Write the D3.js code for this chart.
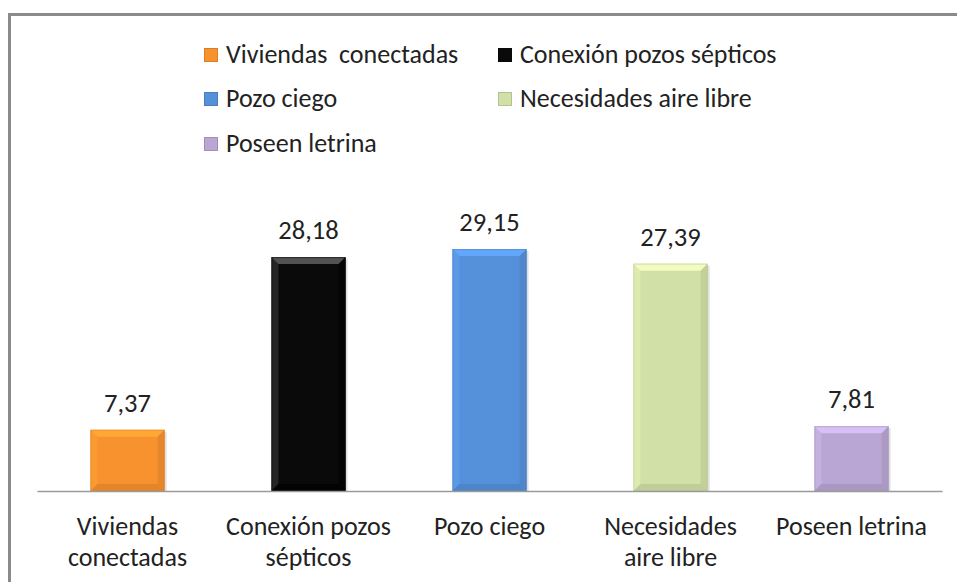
<!DOCTYPE html>
<html>
<head>
<meta charset="utf-8">
<script src="https://cdn.jsdelivr.net/npm/d3@7"></script>
<style>
	body { margin: 0; background: #fff; }
	svg text { font-family: Carlito, Calibri, Lato, sans-serif; fill: #222; }
</style>
</head>
<body>
<div id="vis"></div>
<script>
const width = 957;
const height = 582;

const categories = ["Viviendas conectadas", "Conexión pozos sépticos", "Pozo ciego", "Necesidades aire libre", "Poseen letrina"];
const legendLabels = ["Viviendas  conectadas", "Conexión pozos sépticos", "Pozo ciego", "Necesidades aire libre", "Poseen letrina"];
const tickLines = [["Viviendas", "conectadas"], ["Conexión pozos", "sépticos"], ["Pozo ciego"], ["Necesidades", "aire libre"], ["Poseen letrina"]];
const values = [7.37, 28.18, 29.15, 27.39, 7.81];
const valueLabels = ["7,37", "28,18", "29,15", "27,39", "7,81"];
const colors = ["#F7922E", "#0A0A0A", "#5591DA", "#D1E0A6", "#B9A6D4"];

const svg = d3.select("#vis")
	.append("svg")
	.attr("width", width)
	.attr("height", height);

// chart frame (only left/top visible in the crop)
svg.append("rect")
	.attr("x", 9.5).attr("y", 14.5)
	.attr("width", width + 20).attr("height", height + 20)
	.attr("fill", "#fff")
	.attr("stroke", "#8a8a8a")
	.attr("stroke-width", 3);

const x = d3.scaleBand()
	.domain(categories)
	.range([37, 942])
	.paddingInner(0.59)
	.paddingOuter(0.295);

const y = d3.scaleLinear()
	.domain([0, 35])
	.range([491, 491 - 35 * 8.3]);

// bars with a bevel look
const bars = svg.append("g").selectAll("g.bar")
	.data(categories)
	.join("g")
	.classed("bar", true);

bars.each(function (c, i) {
	const g = d3.select(this);
	const x0 = x(c), x1 = x(c) + x.bandwidth();
	const y0 = y(values[i]), y1 = y(0);
	const b = 7;
	const base = d3.color(colors[i]);
	const light = i === 1 ? d3.color("#5a5a5a") : base.brighter(0.45);
	const dark = i === 1 ? d3.color("#000") : base.darker(0.35);

	g.append("rect")
		.attr("x", x0 + 2).attr("y", y0 + 2)
		.attr("width", x1 - x0).attr("height", y1 - y0 - 2)
		.attr("fill", "#000").attr("opacity", 0.12);

	g.append("rect")
		.attr("x", x0).attr("y", y0)
		.attr("width", x1 - x0).attr("height", y1 - y0)
		.attr("fill", base.formatHex());

	const poly = (pts, fill, op) => g.append("polygon")
		.attr("points", pts.map(p => p.join(",")).join(" "))
		.attr("fill", fill).attr("opacity", op);

	poly([[x0, y0], [x1, y0], [x1 - b, y0 + b], [x0 + b, y0 + b]], light.formatHex(), 0.9);
	poly([[x0, y0], [x0 + b, y0 + b], [x0 + b, y1 - b], [x0, y1]], light.formatHex(), 0.35);
	poly([[x1, y0], [x1, y1], [x1 - b, y1 - b], [x1 - b, y0 + b]], dark.formatHex(), 0.6);
	poly([[x0, y1], [x0 + b, y1 - b], [x1 - b, y1 - b], [x1, y1]], dark.formatHex(), 0.7);

	g.append("rect")
		.attr("x", x0 + 0.5).attr("y", y0 + 0.5)
		.attr("width", x1 - x0 - 1).attr("height", y1 - y0 - 1)
		.attr("fill", "none")
		.attr("stroke", dark.formatHex())
		.attr("stroke-opacity", 0.5);
});

// value labels
svg.append("g").selectAll("text")
	.data(categories)
	.join("text")
	.attr("x", d => x(d) + x.bandwidth() / 2)
	.attr("y", (d, i) => y(values[i]) - 18)
	.attr("text-anchor", "middle")
	.attr("font-size", 26.5)
	.text((d, i) => valueLabels[i]);

// axis
const xAxis = svg.append("g")
	.attr("transform", `translate(0, ${y(0)})`)
	.call(d3.axisBottom(x).tickSize(0).tickFormat(""));
xAxis.select(".domain").attr("stroke", "#9a9a9a").attr("stroke-width", 1.5);

const tickText = svg.append("g").selectAll("text")
	.data(categories)
	.join("text")
	.attr("x", d => x(d) + x.bandwidth() / 2)
	.attr("y", 535)
	.attr("text-anchor", "middle")
	.attr("font-size", 26);

tickText.each(function (d, i) {
	d3.select(this).selectAll("tspan")
		.data(tickLines[i])
		.join("tspan")
		.attr("x", x(d) + x.bandwidth() / 2)
		.attr("dy", (t, j) => j === 0 ? 0 : 31)
		.text(t => t);
});

// legend
const legendX = [204, 498];
const legendY = [58, 102, 147];
const legend = svg.append("g").selectAll("g")
	.data(categories)
	.join("g")
	.attr("transform", (d, i) => `translate(${legendX[i % 2]}, ${legendY[Math.floor(i / 2)]})`);

legend.append("rect")
	.attr("x", 0.5).attr("y", -9.5)
	.attr("width", 13).attr("height", 13)
	.attr("fill", (d, i) => colors[i])
	.attr("stroke", (d, i) => d3.color(colors[i]).darker(0.4))
	.attr("stroke-width", 1);

legend.append("text")
	.attr("x", 22)
	.attr("y", 5)
	.attr("font-size", 26)
	.text((d, i) => legendLabels[i])
	.attr("xml:space", "preserve")
	.style("white-space", "pre");
</script>
</body>
</html>
